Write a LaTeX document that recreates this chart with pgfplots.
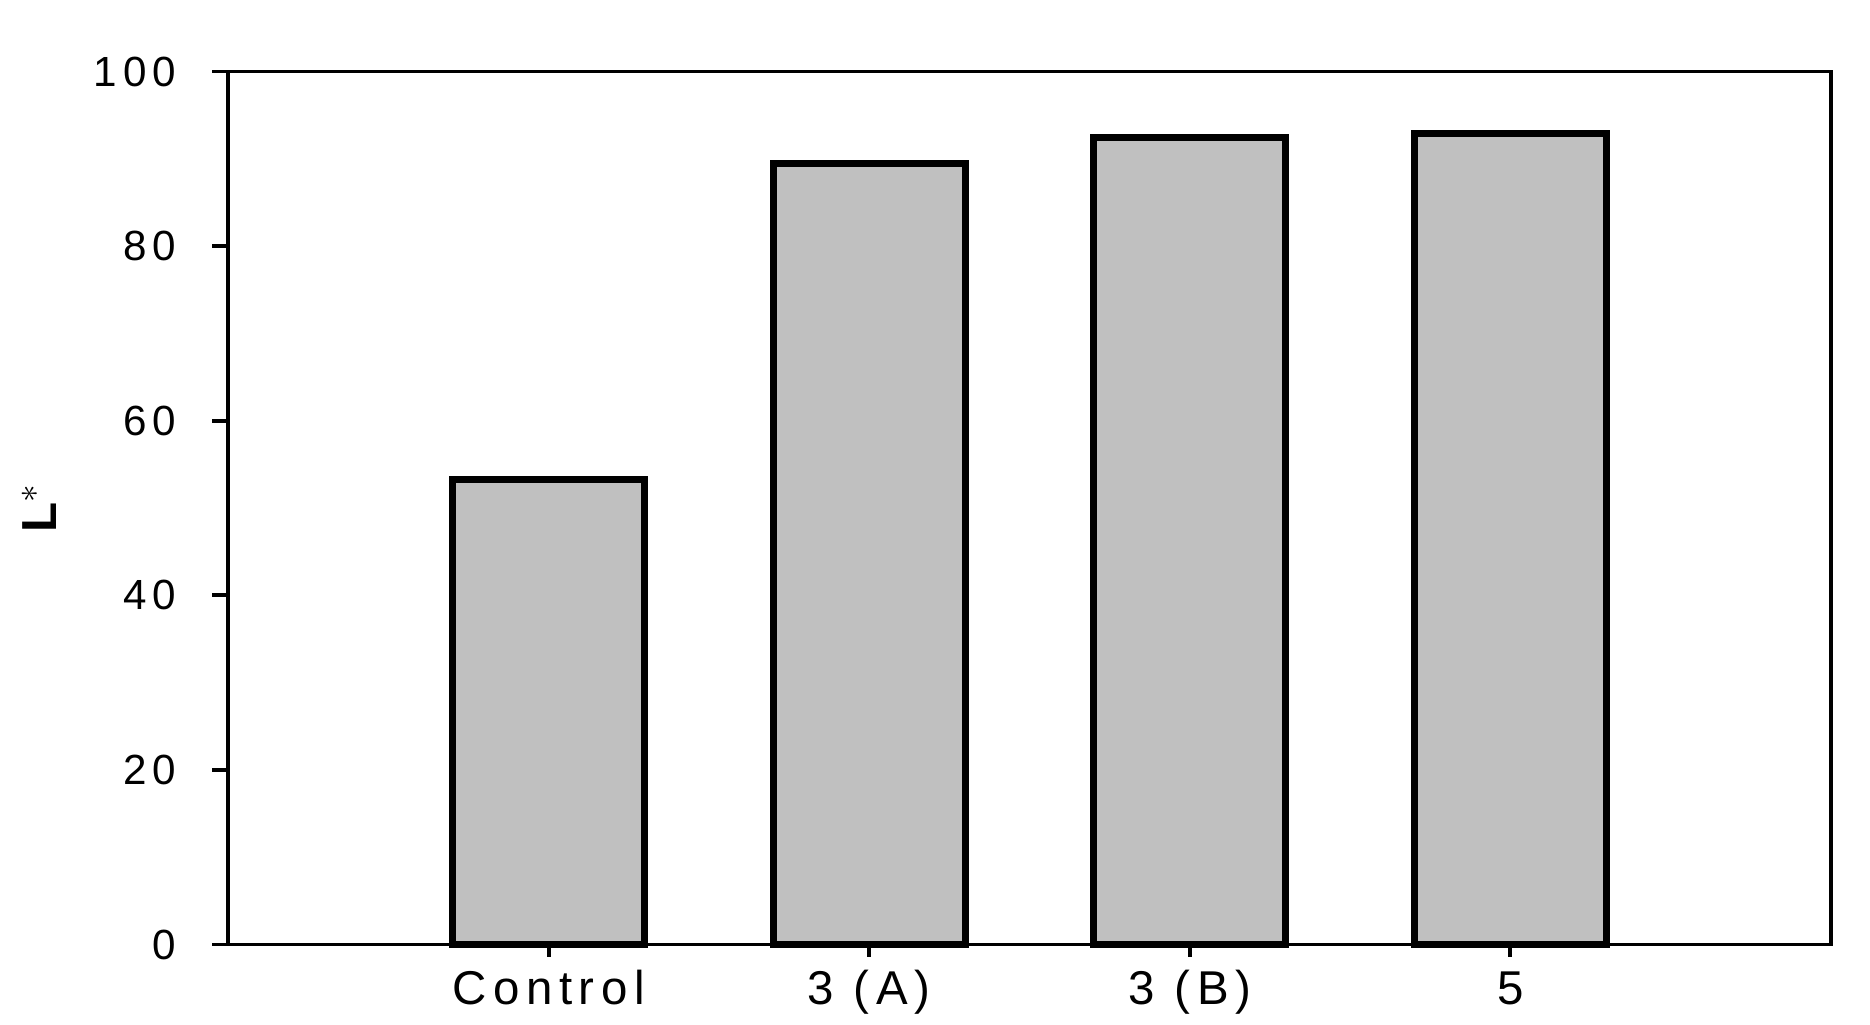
\documentclass[border=0pt]{standalone}
\usepackage{pgfplots}
\pgfplotsset{compat=1.18}
\usepackage{fontspec}
\setmainfont{Liberation Sans}
\begin{document}
\begin{tikzpicture}
\path[use as bounding box] (-22.8mm,-7.95mm) rectangle (164.2mm,94.45mm);
\begin{axis}[
  scale only axis,
  width=160.3mm, height=87.3mm,
  at={(0,0)}, anchor=south west,
  xmin=-1, xmax=4, ymin=0, ymax=100,
  axis line style={line width=1.1pt},
  every tick/.style={black, line width=1.1pt},
  major tick length=1.6mm,
  xtick style={/pgfplots/major tick length=1.2mm},
  tick align=outside,
  xtick pos=bottom, ytick pos=left,
  ytick={0,20,40,60,80,100},
  xtick=data,
  xticklabels={Control,3 (A),3 (B),5},
  /pgf/number format/assume math mode=true,
  yticklabel style={font=\fontsize{12}{14}\selectfont\addfontfeature{LetterSpace=15}, inner sep=0pt, anchor=east, xshift=-3.5mm},
  xticklabel style={font=\fontsize{13.5}{16}\selectfont\addfontfeature{LetterSpace=14}, inner sep=0pt, anchor=base, yshift=-4.4mm},
  ylabel={L$^{*}$},
  ylabel style={font=\bfseries\fontsize{14}{16}\selectfont, at={(axis description cs:-0.107,0.5)}, anchor=base, inner sep=0pt},
  clip=false,
]
\addplot[ybar, bar width=0.6, fill={rgb,255:red,192;green,192;blue,192}, draw=black, line width=2pt]
  coordinates {(0,53.3) (1,89.5) (2,92.4) (3,92.9)};
\end{axis}
\end{tikzpicture}
\end{document}
